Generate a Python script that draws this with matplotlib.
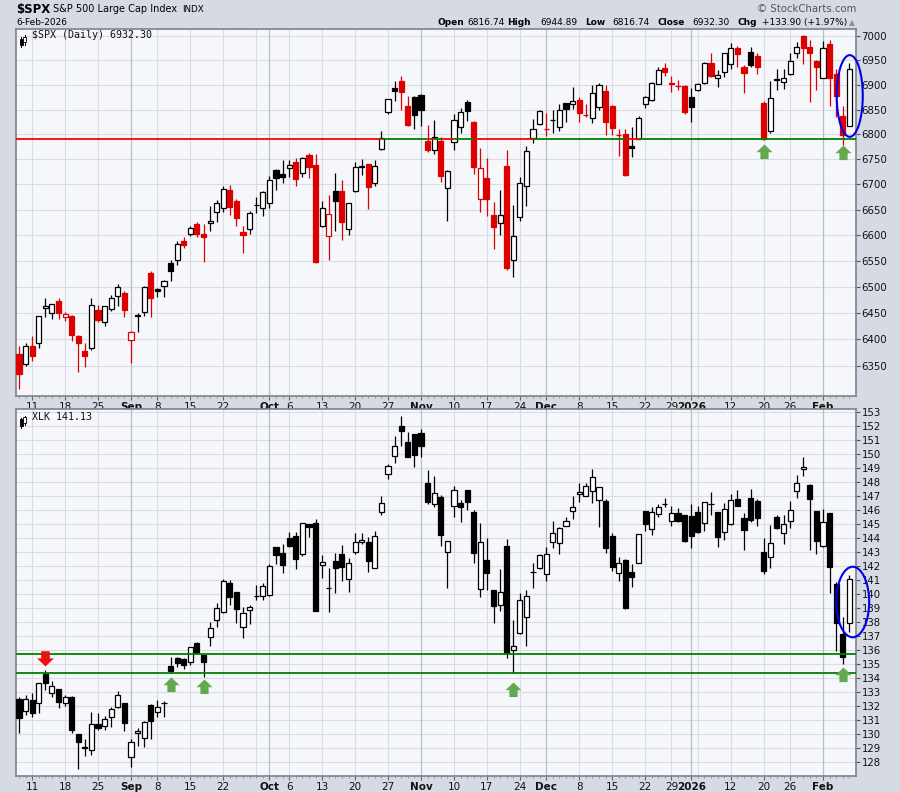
import numpy as np
import pandas as pd
import matplotlib
matplotlib.use("Agg")
import matplotlib.pyplot as plt
from matplotlib.path import Path
from matplotlib.patches import Ellipse, Rectangle
from matplotlib.lines import Line2D
from matplotlib.ticker import FixedLocator, FuncFormatter, NullLocator

# ---- trading calendar ----
holidays = ["2025-09-01", "2025-11-27", "2025-12-25", "2026-01-01", "2026-01-19"]
dates = pd.bdate_range("2025-08-07", "2026-02-06")
dates = dates[~dates.isin(pd.to_datetime(holidays))]

# ---- $SPX daily OHLC ----
spx_open = [6373, 6353, 6388, 6394, 6459, 6451, 6474, 6443, 6445, 6406,
            6379, 6383, 6456, 6433, 6458, 6482, 6488, 6399, 6445, 6453,
            6527, 6496, 6501, 6547, 6552, 6589, 6602, 6622, 6602, 6625,
            6645, 6653, 6690, 6667, 6606, 6613, 6659, 6654, 6663, 6729,
            6721, 6732, 6744, 6722, 6759, 6738, 6618, 6599, 6687, 6687,
            6612, 6688, 6734, 6740, 6702, 6770, 6844, 6894, 6908, 6858,
            6876, 6880, 6787, 6768, 6787, 6693, 6784, 6814, 6865, 6825,
            6671, 6712, 6640, 6624, 6736, 6553, 6636, 6696, 6792, 6820,
            6811, 6829, 6814, 6863, 6862, 6870, 6839, 6832, 6855, 6887,
            6858, 6799, 6800, 6776, 6791, 6862, 6869, 6902, 6934, 6903,
            6898, 6897, 6876, 6889, 6904, 6945, 6914, 6926, 6942, 6975,
            6936, 6968, 6959, 6864, 6807, 6913, 6905, 6922, 6965, 7001,
            6977, 6948, 6915, 6984, 6923, 6836, 6816.74]
spx_high = [6388, 6394, 6406, 6445, 6478, 6468, 6478, 6453, 6446, 6408,
            6393, 6478, 6466, 6464, 6484, 6506, 6492, 6416, 6451, 6502,
            6531, 6499, 6514, 6553, 6589, 6597, 6618, 6626, 6622, 6657,
            6669, 6697, 6699, 6671, 6618, 6647, 6676, 6687, 6716, 6731,
            6749, 6749, 6753, 6755, 6763, 6760, 6668, 6679, 6722, 6709,
            6664, 6744, 6751, 6741, 6749, 6807, 6872, 6908, 6918, 6878,
            6877, 6881, 6818, 6828, 6794, 6729, 6840, 6854, 6869, 6827,
            6773, 6753, 6666, 6689, 6769, 6660, 6715, 6777, 6830, 6850,
            6842, 6850, 6861, 6864, 6895, 6876, 6862, 6899, 6903, 6899,
            6860, 6810, 6810, 6815, 6836, 6878, 6906, 6936, 6945, 6918,
            6910, 6899, 6893, 6903, 6946, 6965, 6930, 6966, 6985, 6980,
            6941, 6977, 6966, 6867, 6908, 6933, 6932, 6965, 6988, 7002,
            6992, 6951, 6990, 6992, 6933, 6857, 6944.89]
spx_low = [6307, 6350, 6360, 6384, 6443, 6439, 6439, 6435, 6397, 6339,
           6349, 6380, 6434, 6425, 6454, 6463, 6442, 6356, 6414, 6444,
           6443, 6480, 6480, 6512, 6542, 6576, 6598, 6597, 6549, 6608,
           6626, 6645, 6639, 6618, 6566, 6602, 6643, 6637, 6654, 6689,
           6703, 6715, 6697, 6715, 6713, 6547, 6616, 6552, 6608, 6590,
           6601, 6686, 6718, 6652, 6697, 6768, 6841, 6867, 6849, 6816,
           6810, 6816, 6764, 6761, 6704, 6628, 6768, 6803, 6826, 6721,
           6645, 6637, 6573, 6601, 6533, 6519, 6629, 6657, 6782, 6818,
           6797, 6803, 6807, 6825, 6852, 6825, 6834, 6822, 6850, 6799,
           6799, 6756, 6716, 6755, 6790, 6853, 6867, 6901, 6918, 6886,
           6889, 6841, 6824, 6887, 6902, 6917, 6895, 6916, 6932, 6937,
           6884, 6936, 6922, 6789, 6803, 6889, 6892, 6920, 6956, 6942,
           6866, 6889, 6914, 6858, 6834, 6778, 6816.74]
spx_close = [6335, 6387, 6369, 6444, 6463, 6467, 6450, 6448, 6408, 6393,
             6368, 6466, 6436, 6463, 6478, 6500, 6456, 6414, 6447, 6500,
             6478, 6492, 6511, 6530, 6584, 6582, 6614, 6603, 6597, 6629,
             6663, 6692, 6655, 6634, 6601, 6643, 6660, 6686, 6709, 6712,
             6714, 6738, 6711, 6752, 6734, 6549, 6653, 6641, 6667, 6626,
             6663, 6734, 6736, 6695, 6736, 6792, 6871, 6887, 6885, 6818,
             6838, 6849, 6769, 6794, 6717, 6727, 6829, 6844, 6848, 6735,
             6732, 6671, 6616, 6640, 6536, 6599, 6702, 6766, 6810, 6847,
             6810, 6828, 6849, 6852, 6867, 6842, 6838, 6884, 6899, 6825,
             6813, 6798, 6718, 6772, 6832, 6875, 6904, 6930, 6927, 6902,
             6897, 6844, 6856, 6901, 6945, 6918, 6920, 6965, 6975, 6963,
             6925, 6941, 6937, 6790, 6874, 6911, 6914, 6948, 6977, 6975,
             6966, 6937, 6975, 6915, 6878, 6798.40, 6932.30]
spx_prev_close = 6345
spx_support = 6790

# ---- XLK daily OHLC ----
xlk_open = [132.50, 131.67, 132.45, 132.26, 134.31, 132.98, 133.21, 132.21, 132.64, 130.00,
            129.12, 128.88, 130.71, 130.60, 131.21, 131.93, 132.21, 128.40, 130.07, 129.71,
            132.10, 131.62, 132.21, 134.88, 135.43, 135.36, 135.19, 136.50, 135.67, 136.98,
            138.17, 138.76, 140.83, 140.19, 137.64, 138.88, 139.90, 139.88, 139.95, 143.36,
            142.93, 144.00, 144.19, 142.86, 145.00, 145.07, 142.10, 140.43, 142.40, 142.86,
            141.07, 143.00, 143.71, 143.76, 141.86, 145.90, 148.57, 149.90, 152.02, 150.86,
            151.45, 151.50, 147.93, 146.43, 146.98, 143.05, 146.33, 146.50, 147.45, 145.86,
            140.36, 142.45, 140.31, 139.24, 143.45, 136.02, 137.21, 138.36, 141.57, 141.86,
            141.45, 143.76, 143.64, 144.88, 145.95, 147.14, 147.02, 147.40, 146.74, 146.69,
            144.17, 141.55, 142.45, 141.57, 142.26, 145.95, 144.64, 145.71, 146.45, 145.26,
            145.79, 145.67, 145.60, 145.90, 145.12, 146.43, 145.86, 144.48, 145.02, 146.79,
            145.43, 146.86, 146.67, 143.00, 142.69, 145.55, 144.40, 145.24, 147.38, 148.93,
            147.81, 145.95, 143.45, 145.79, 140.74, 137.17, 137.93]
xlk_high = [132.69, 132.81, 132.98, 133.64, 134.60, 133.83, 133.21, 132.81, 132.70, 130.00,
            129.64, 131.62, 131.50, 131.31, 131.98, 133.12, 132.21, 129.64, 130.43, 130.98,
            132.17, 132.45, 132.40, 135.50, 135.50, 135.43, 136.26, 136.57, 135.67, 138.05,
            139.36, 141.07, 141.02, 140.19, 139.12, 139.24, 140.67, 140.83, 142.17, 143.36,
            143.60, 144.43, 144.43, 145.12, 145.00, 145.38, 142.81, 141.86, 142.98, 143.52,
            142.57, 144.40, 144.40, 144.12, 144.52, 147.02, 149.31, 151.31, 152.74, 151.62,
            151.45, 151.79, 148.88, 148.45, 147.10, 143.81, 147.74, 146.74, 147.45, 146.02,
            145.07, 144.00, 140.31, 141.79, 143.93, 138.17, 140.12, 140.31, 142.21, 142.88,
            143.40, 145.24, 144.83, 145.50, 147.02, 147.93, 147.98, 148.93, 147.70, 146.79,
            144.40, 142.64, 142.50, 142.17, 144.29, 145.95, 146.21, 146.45, 146.86, 146.31,
            146.14, 145.67, 146.45, 146.31, 146.62, 147.33, 145.90, 146.50, 147.17, 147.45,
            145.83, 147.50, 146.79, 144.00, 144.95, 145.67, 145.67, 146.67, 148.52, 149.79,
            147.88, 145.95, 146.07, 145.79, 140.90, 138.40, 141.38]
xlk_low = [130.07, 131.38, 131.26, 131.50, 133.17, 132.69, 131.86, 132.02, 130.07, 127.50,
           128.45, 128.52, 130.31, 130.31, 130.55, 131.90, 130.26, 127.69, 129.17, 129.12,
           129.64, 131.26, 131.26, 134.36, 134.83, 134.64, 134.95, 135.79, 134.07, 136.31,
           137.69, 138.70, 139.24, 137.98, 136.86, 137.88, 139.60, 139.60, 139.88, 142.17,
           141.55, 143.40, 141.79, 142.76, 144.07, 138.80, 141.14, 138.76, 140.07, 140.98,
           140.19, 142.88, 143.60, 141.62, 141.86, 145.67, 148.24, 149.40, 150.62, 149.80,
           149.12, 149.79, 146.45, 146.26, 143.48, 140.48, 145.55, 145.19, 146.02, 142.21,
           139.83, 140.31, 137.93, 138.83, 135.43, 134.36, 137.20, 136.31, 140.48, 141.80,
           140.95, 143.29, 142.88, 144.85, 145.36, 146.62, 147.00, 146.50, 144.83, 142.93,
           141.69, 140.98, 138.93, 140.50, 142.26, 144.55, 144.24, 145.55, 146.21, 144.88,
           145.20, 143.76, 143.29, 144.40, 144.55, 145.67, 143.40, 143.88, 144.95, 146.30,
           143.17, 145.20, 144.88, 141.45, 141.86, 144.70, 143.60, 144.76, 146.90, 148.45,
           143.17, 142.88, 143.40, 140.07, 135.98, 135.02, 137.33]
xlk_close = [131.19, 132.50, 131.55, 133.64, 133.69, 133.45, 132.33, 132.64, 130.31, 129.48,
             129.00, 130.71, 130.43, 131.07, 131.79, 132.79, 130.79, 129.45, 130.24, 130.86,
             130.98, 131.93, 132.21, 134.55, 135.07, 134.95, 136.21, 135.79, 135.19, 137.57,
             139.00, 140.98, 139.79, 138.93, 138.69, 139.12, 139.90, 140.62, 142.02, 142.79,
             142.07, 143.48, 142.50, 145.07, 144.79, 138.83, 142.29, 140.43, 141.86, 141.93,
             142.21, 143.76, 143.86, 142.40, 144.19, 146.50, 149.19, 150.62, 151.69, 149.83,
             149.95, 150.62, 146.62, 147.21, 144.24, 143.81, 147.45, 146.21, 146.62, 142.98,
             143.76, 141.50, 139.19, 140.19, 135.79, 136.31, 139.60, 139.90, 141.57, 142.81,
             142.88, 144.36, 144.71, 145.24, 146.26, 147.29, 147.74, 148.40, 147.64, 143.33,
             141.98, 142.26, 139.00, 141.21, 144.29, 145.02, 145.86, 146.21, 146.45, 145.79,
             145.26, 143.81, 144.17, 144.48, 146.57, 146.43, 144.12, 146.10, 146.74, 146.31,
             144.60, 145.31, 145.48, 141.69, 143.69, 144.76, 145.00, 146.02, 147.93, 149.12,
             146.79, 143.81, 145.14, 141.98, 137.98, 135.55, 141.13]
xlk_support = [135.74, 134.40]

# ---- annotations ----
spx_arrow_dates = ["2026-01-20", "2026-02-05"]
spx_arrow_levels = [6780, 6778]
xlk_up_dates = ["2025-09-10", "2025-09-17", "2025-11-21", "2026-02-05"]
xlk_up_levels = [134.11, 133.93, 133.76, 134.83]
xlk_down_dates = ["2025-08-13"]
xlk_down_levels = [134.90]

# x-axis labels
tick_dates = ["2025-08-11", "2025-08-18", "2025-08-25", "2025-09-02", "2025-09-08",
              "2025-09-15", "2025-09-22", "2025-10-01", "2025-10-06", "2025-10-13",
              "2025-10-20", "2025-10-27", "2025-11-03", "2025-11-10", "2025-11-17",
              "2025-11-24", "2025-12-01", "2025-12-08", "2025-12-15", "2025-12-22",
              "2025-12-29", "2026-01-02", "2026-01-12", "2026-01-20", "2026-01-26",
              "2026-02-02"]
tick_labels = ["11", "18", "25", "Sep", "8", "15", "22", "Oct", "6", "13", "20", "27",
               "Nov", "10", "17", "24", "Dec", "8", "15", "22", "29", "2026", "12",
               "20", "26", "Feb"]
bold_labels = {"Sep", "Oct", "Nov", "Dec", "2026", "Feb"}

spx_levels = list(range(6350, 7001, 50))
xlk_levels = list(range(128, 154))

BG = "#d5dae3"
PANEL = "#f5f7fb"
GRID = "#d9dce3"
GRID_DARK = "#b9bdc6"
RED = "#dd0000"
GREEN_LINE = "#008000"
ARROW_GREEN = "#64a84f"

n = len(dates)
x = np.arange(n)
date_idx = {d.strftime("%Y-%m-%d"): i for i, d in enumerate(dates)}


def idx(ds):
    return [date_idx[d] for d in ds]


def draw_candles(ax, o, h, l, c, edge_colors):
    o, h, l, c = map(np.asarray, (o, h, l, c))
    h = np.maximum(h, np.maximum(o, c))
    l = np.minimum(l, np.minimum(o, c))
    filled = c < o
    faces = [ec if f else "white" for ec, f in zip(edge_colors, filled)]
    ax.vlines(x, l, h, colors=edge_colors, linewidth=0.9, zorder=2)
    bottom = np.minimum(o, c)
    height = np.abs(c - o)
    ax.bar(x, height, bottom=bottom, width=0.78, color=faces,
           edgecolor=edge_colors, linewidth=0.9, zorder=3)


def style_axes(ax, levels, fmt):
    ax.set_facecolor(PANEL)
    ax.set_xlim(-0.45, 127.0)
    ax.yaxis.set_major_locator(FixedLocator(levels))
    ax.yaxis.set_minor_locator(NullLocator())
    ax.yaxis.set_major_formatter(FuncFormatter(fmt))
    ax.yaxis.tick_right()
    ax.tick_params(axis="y", length=3, width=0.8, pad=1, labelsize=7.3,
                   color="#555555", labelcolor="#111111")
    ax.set_xticks(idx(tick_dates))
    ax.set_xticklabels(tick_labels)
    for t in ax.get_xticklabels():
        if t.get_text() in bold_labels:
            t.set_fontweight("bold")
    ax.set_xticks(x, minor=True)
    ax.tick_params(axis="x", which="major", length=3, pad=1, labelsize=7.5,
                   color="#666666", labelcolor="#111111")
    ax.tick_params(axis="x", which="minor", length=1.5, color="#888888")
    for lv in levels:
        ax.axhline(lv, color=GRID, lw=0.8, zorder=0)
    # weekly and monthly grid lines
    wk = pd.Series(x, index=dates).groupby(dates.to_period("W")).first().values
    mo = pd.Series(x, index=dates).groupby(dates.to_period("M")).first().values[1:]
    for i in wk:
        if i not in mo and i > 0:
            ax.axvline(i, color=GRID, lw=0.8, zorder=0)
    for i in mo:
        ax.axvline(i, color=GRID_DARK, lw=0.9, zorder=0)
    for s in ax.spines.values():
        s.set_color("#7d838c")
        s.set_linewidth(1.2)


def candle_icon(ax):
    # small chart-type glyph in the panel's top-left corner
    for dx, top, bot, fill in [(0.006, 0.972, 0.955, True), (0.0105, 0.978, 0.962, False)]:
        ax.add_line(Line2D([dx, dx], [bot - 0.006, top + 0.004], transform=ax.transAxes,
                           color="black", lw=0.7, zorder=7))
        ax.add_patch(Rectangle((dx - 0.0018, bot), 0.0036, top - bot,
                               transform=ax.transAxes, facecolor="black" if fill else "white",
                               edgecolor="black", lw=0.6, zorder=8))


# block-arrow markers, tip at origin
up_arrow = Path([(0, 0), (0.55, -0.53), (0.28, -0.53), (0.28, -1), (-0.28, -1),
                 (-0.28, -0.53), (-0.55, -0.53), (0, 0)], closed=True)
down_arrow = Path([(0, 0), (0.55, 0.53), (0.28, 0.53), (0.28, 1), (-0.28, 1),
                   (-0.28, 0.53), (-0.55, 0.53), (0, 0)], closed=True)

fig = plt.figure(figsize=(9, 7.92), dpi=100, facecolor=BG)
ax1 = fig.add_axes([16 / 900, 1 - 396 / 792, 840 / 900, (396 - 28.5) / 792])
ax2 = fig.add_axes([16 / 900, 1 - 776 / 792, 840 / 900, (776 - 409) / 792])

# ---- SPX panel ----
ax1.set_yscale("log")
ax1.set_ylim(6294, 7016)
style_axes(ax1, spx_levels, lambda v, p: f"{v:.0f}")
prev = np.concatenate([[spx_prev_close], spx_close[:-1]])
spx_cols = [RED if c < p else "black" for c, p in zip(spx_close, prev)]
draw_candles(ax1, spx_open, spx_high, spx_low, spx_close, spx_cols)

# support line: green where price sits above it
closes = np.asarray(spx_close)
seg_x = np.concatenate([[-0.45], x, [127.0]])
seg_above = np.concatenate([[closes[0] >= spx_support], closes >= spx_support])
for k in range(len(seg_x) - 1):
    col = GREEN_LINE if seg_above[k] else "#ff0000"
    ax1.plot([seg_x[k], seg_x[k + 1]], [spx_support, spx_support], color=col,
             lw=1.3, zorder=4, solid_capstyle="butt")

ax1.plot(idx(spx_arrow_dates), spx_arrow_levels, linestyle="none", marker=up_arrow,
         markersize=21, color=ARROW_GREEN, markeredgewidth=0, zorder=5)
ax1.add_patch(Ellipse((126.05, 6878), 3.95, 166, fill=False, edgecolor="#0000ee",
                      lw=1.5, zorder=6, clip_on=False))
ax1.text(16 / 840, 1 - 6.5 / 367.5, "$SPX (Daily) 6932.30", transform=ax1.transAxes,
         family="DejaVu Sans Mono", fontsize=7.2, va="center", ha="left", color="#111111")
candle_icon(ax1)

# ---- XLK panel ----
ax2.set_ylim(127.02, 153.24)
style_axes(ax2, xlk_levels, lambda v, p: f"{v:.0f}")
draw_candles(ax2, xlk_open, xlk_high, xlk_low, xlk_close, ["black"] * n)
for lv in xlk_support:
    ax2.axhline(lv, color=GREEN_LINE, lw=1.3, zorder=4)
ax2.plot(idx(xlk_up_dates), xlk_up_levels, linestyle="none", marker=up_arrow,
         markersize=21, color=ARROW_GREEN, markeredgewidth=0, zorder=5)
ax2.plot(idx(xlk_down_dates), xlk_down_levels, linestyle="none", marker=down_arrow,
         markersize=22, color="#ee1111", markeredgewidth=0, zorder=5)
ax2.add_patch(Ellipse((126.5, 139.45), 5.0, 5.04, fill=False, edgecolor="#0000ee",
                      lw=1.5, zorder=6, clip_on=False))
ax2.text(16 / 840, 1 - 7.5 / 367, "XLK 141.13", transform=ax2.transAxes,
         family="DejaVu Sans Mono", fontsize=7.2, va="center", ha="left", color="#111111")
candle_icon(ax2)

# ---- header ----
def ftext(px, py, s, **kw):
    fig.text(px / 900, 1 - py / 792, s, va="center", ha="left", **kw)


ftext(16, 9.5, "$SPX", fontsize=8.5, fontweight="bold")
ftext(53, 9.5, "S&P 500 Large Cap Index", fontsize=7)
ftext(182, 9.8, "INDX", fontsize=6.3)
fig.text(856 / 900, 1 - 9 / 792, "\u00a9 StockCharts.com", fontsize=7.3, color="#555555",
         va="center", ha="right")
ftext(16, 22.5, "6-Feb-2026", fontsize=6.5)
header = [(437, "Open", True), (467, "6816.74", False), (507, "High", True),
          (540, "6944.89", False), (585, "Low", True), (612, "6816.74", False),
          (657, "Close", True), (692, "6932.30", False), (737, "Chg", True),
          (762, "+133.90 (+1.97%)", False)]
for px, s, b in header:
    ftext(px, 22.5, s, fontsize=6.5, fontweight="bold" if b else "normal")
ftext(849, 22.5, "\u25b2", fontsize=5.5, color="#8a9099")

fig.savefig("out.png", dpi=100, facecolor=fig.get_facecolor())
